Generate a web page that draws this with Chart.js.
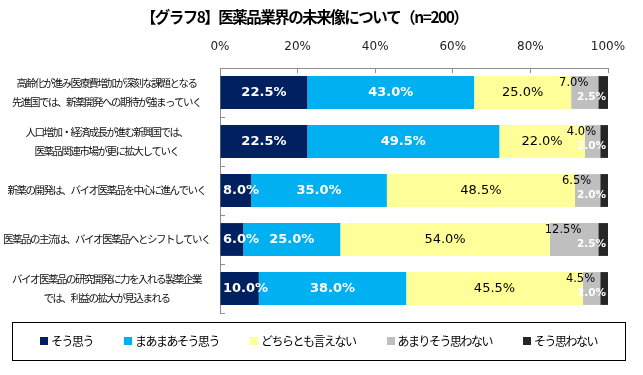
<!DOCTYPE html>
<html lang="ja">
<head>
<meta charset="UTF-8">
<title>医薬品業界の未来像について</title>
<script src="https://cdn.jsdelivr.net/npm/chart.js"></script>
<style>
  html, body { margin: 0; padding: 0; background: #fff; }
</style>
</head>
<body>
<canvas id="chart" width="643" height="375"></canvas>
<script>
const titleText = '【グラフ8】医薬品業界の未来像について（n=200）';
const categories = [
  ['高齢化が進み医療費増加が深刻な課題となる', '先進国では、新薬開発への期待が強まっていく'],
  ['人口増加・経済成長が進む新興国では、', '医薬品関連市場が更に拡大していく'],
  '新薬の開発は、バイオ医薬品を中心に進んでいく',
  '医薬品の主流は、バイオ医薬品へとシフトしていく',
  ['バイオ医薬品の研究開発に力を入れる製薬企業', 'では、利益の拡大が見込まれる']
];
const seriesNames = ['そう思う', 'まあまあそう思う', 'どちらとも言えない', 'あまりそう思わない', 'そう思わない'];
const seriesColors = ['#002060', '#00B0F0', '#FFFF99', '#BFBFBF', '#262626'];
const agree            = [22.5, 22.5,  8.0,  6.0, 10.0];
const somewhatAgree    = [43.0, 49.5, 35.0, 25.0, 38.0];
const neutral          = [25.0, 22.0, 48.5, 54.0, 45.5];
const somewhatDisagree = [ 7.0,  4.0,  6.5, 12.5,  4.5];
const disagree         = [ 2.5,  2.0,  2.0,  2.5,  2.0];
const xTicks = [0, 20, 40, 60, 80, 100];

const JP = '"Noto Sans CJK JP", "Noto Sans", sans-serif';
const NUM = '"DejaVu Sans", sans-serif';
const TIGHT = '-1.5px';
const AXIS = '#8f8f8f';

const seriesValues = [agree, somewhatAgree, neutral, somewhatDisagree, disagree];

// value labels + hand-drawn framed legend
const labelPlugin = {
  id: 'barLabels',
  beforeLayout(chart) { chart.ctx.letterSpacing = TIGHT; },
  beforeDraw(chart) { chart.ctx.letterSpacing = TIGHT; },
  afterDatasetsDraw(chart) {
    const ctx = chart.ctx, area = chart.chartArea;
    ctx.save();
    ctx.letterSpacing = '0px';
    ctx.textBaseline = 'middle';
    chart.data.datasets.forEach((ds, i) => {
      chart.getDatasetMeta(i).data.forEach((bar, j) => {
        const txt = ds.data[j].toFixed(1) + '%';
        const l = Math.min(bar.x, bar.base), r = Math.max(bar.x, bar.base);
        const top = bar.y - bar.height / 2;
        let x = (l + r) / 2, y = bar.y;
        ctx.textAlign = 'center';
        if (i < 2) {
          ctx.font = 'bold 13px ' + NUM;
          ctx.fillStyle = '#fff';
          const w = ctx.measureText(txt).width;
          x = Math.max(x, area.left + 3 + w / 2);
        } else if (i === 2) {
          ctx.font = '13px ' + NUM;
          ctx.fillStyle = '#000';
        } else if (i === 3) {
          ctx.font = '11.5px ' + NUM;
          ctx.fillStyle = '#000';
          x -= 11;
          y = top + 7;
        } else {
          ctx.font = 'bold 10.5px ' + NUM;
          ctx.fillStyle = '#fff';
          ctx.textAlign = 'right';
          x = area.right - 2;
          y = bar.y + 4.5;
        }
        ctx.fillText(txt, x, y);
      });
    });
    ctx.restore();
    ctx.letterSpacing = '0px';
  },
  afterDraw(chart) {
    const ctx = chart.ctx;
    ctx.save();
    ctx.letterSpacing = TIGHT;
    ctx.font = '12px ' + JP;
    ctx.textBaseline = 'middle';
    ctx.textAlign = 'left';
    const items = chart.data.datasets.map(ds => ({
      text: ds.label, color: ds.backgroundColor, w: ctx.measureText(ds.label).width
    }));
    const box = 8, gap = 3, spacing = 31;
    const total = items.reduce((s, it) => s + box + gap + it.w, 0) + spacing * (items.length - 1);
    let x = 318.5 - total / 2;
    const cy = 341;
    items.forEach(it => {
      ctx.fillStyle = it.color;
      ctx.fillRect(Math.round(x), cy - 4, box, box);
      ctx.fillStyle = '#000';
      ctx.fillText(it.text, x + box + gap, cy);
      x += box + gap + it.w + spacing;
    });
    ctx.strokeStyle = '#000';
    ctx.lineWidth = 1;
    ctx.strokeRect(12.5, 322.5, 613, 38);
    ctx.restore();
  }
};

new Chart(document.getElementById('chart'), {
  type: 'bar',
  data: {
    labels: categories,
    datasets: seriesNames.map((name, i) => ({
      label: name,
      data: seriesValues[i],
      backgroundColor: seriesColors[i],
      borderWidth: 0,
      barPercentage: 0.67,
      categoryPercentage: 1
    }))
  },
  options: {
    indexAxis: 'y',
    responsive: false,
    animation: false,
    devicePixelRatio: 1,
    layout: { padding: { left: 0, right: 35, top: 0, bottom: 62 } },
    plugins: {
      legend: { display: false },
      tooltip: { enabled: false },
      title: {
        display: true,
        text: titleText,
        color: '#000',
        font: { family: JP, size: 15.5, weight: 'bold', lineHeight: 1.2 },
        padding: { top: 8, bottom: 0 }
      }
    },
    scales: {
      x: {
        position: 'top',
        stacked: true,
        min: xTicks[0],
        max: xTicks[xTicks.length - 1],
        ticks: {
          stepSize: xTicks[1] - xTicks[0],
          callback: v => v + '%',
          font: { family: NUM, size: 12 },
          color: '#222',
          padding: 19,
          z: 1
        },
        grid: { drawOnChartArea: false, tickLength: -5, color: AXIS },
        border: { color: AXIS },
        afterFit(s) { s.height = 68 - 8 - 15.5 * 1.2; }
      },
      y: {
        stacked: true,
        ticks: {
          font: { family: JP, size: 10.5, lineHeight: 1.8 },
          color: '#111',
          crossAlign: 'center',
          padding: 15
        },
        grid: { drawOnChartArea: false, tickLength: -5, color: AXIS, offset: true },
        border: { color: AXIS },
        afterFit(s) { s.width = 220; }
      }
    }
  },
  plugins: [labelPlugin]
});
</script>
</body>
</html>
